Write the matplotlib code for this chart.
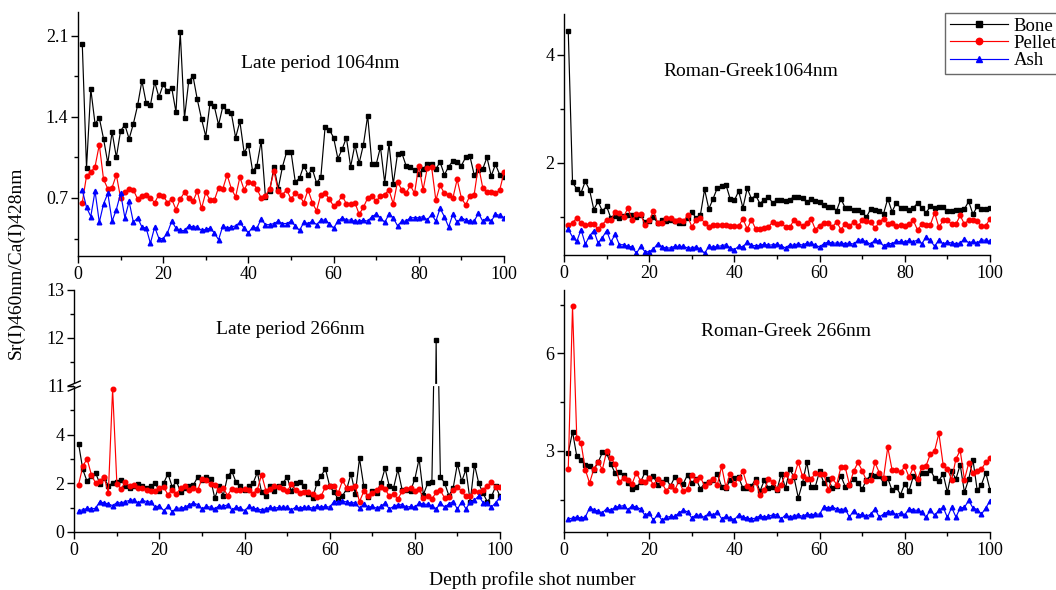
import matplotlib
matplotlib.use("Agg")
import matplotlib.pyplot as plt
from matplotlib.ticker import MultipleLocator
from matplotlib.lines import Line2D

plt.rcParams["font.family"] = ["Liberation Serif", "DejaVu Serif"]
plt.rcParams["axes.unicode_minus"] = False

shots = list(range(1, 101))

# ---- Late period 1064nm ----
late1064_bone = [
    2.03, 0.96, 1.64, 1.34, 1.39, 1.21, 1.00, 1.27, 1.05, 1.28,
    1.33, 1.21, 1.34, 1.50, 1.71, 1.52, 1.50, 1.70, 1.57, 1.68,
    1.62, 1.65, 1.44, 2.13, 1.39, 1.71, 1.75, 1.55, 1.38, 1.23,
    1.52, 1.49, 1.33, 1.49, 1.45, 1.43, 1.22, 1.36, 1.09, 1.16,
    0.93, 0.98, 1.19, 0.71, 0.76, 0.97, 0.78, 0.97, 1.10, 1.10,
    0.84, 0.87, 0.98, 0.90, 0.95, 0.83, 0.88, 1.31, 1.29, 1.22,
    1.04, 1.12, 1.22, 0.97, 1.16, 1.00, 1.16, 1.41, 0.99, 0.99,
    1.14, 0.83, 1.17, 0.82, 1.08, 1.09, 0.98, 0.97, 0.94, 0.91,
    0.95, 0.99, 0.99, 0.95, 1.01, 0.90, 0.97, 1.02, 1.01, 0.98,
    1.05, 1.06, 0.90, 0.94, 0.95, 1.05, 0.89, 0.99, 0.90, 0.88,
]
late1064_pellet = [
    0.66, 0.89, 0.92, 0.97, 1.16, 0.86, 0.78, 0.79, 0.90, 0.70,
    0.75, 0.78, 0.77, 0.69, 0.72, 0.73, 0.70, 0.66, 0.73, 0.72,
    0.66, 0.69, 0.60, 0.69, 0.75, 0.70, 0.67, 0.76, 0.61, 0.75,
    0.68, 0.68, 0.79, 0.78, 0.90, 0.78, 0.71, 0.88, 0.77, 0.84,
    0.83, 0.78, 0.70, 0.72, 0.78, 0.93, 0.76, 0.73, 0.77, 0.69,
    0.74, 0.72, 0.66, 0.77, 0.66, 0.59, 0.73, 0.74, 0.69, 0.63,
    0.66, 0.72, 0.65, 0.65, 0.66, 0.56, 0.62, 0.70, 0.72, 0.67,
    0.72, 0.73, 0.77, 0.65, 0.84, 0.77, 0.74, 0.81, 0.74, 0.98,
    0.77, 0.96, 0.97, 0.68, 0.81, 0.74, 0.73, 0.70, 0.86, 0.70,
    0.64, 0.72, 0.73, 0.98, 0.79, 0.75, 0.75, 0.74, 0.77, 0.92,
]
late1064_ash = [
    0.77, 0.62, 0.54, 0.76, 0.49, 0.65, 0.74, 0.50, 0.60, 0.74,
    0.53, 0.67, 0.49, 0.53, 0.45, 0.44, 0.31, 0.45, 0.35, 0.35,
    0.40, 0.50, 0.44, 0.42, 0.42, 0.46, 0.45, 0.45, 0.42, 0.43,
    0.44, 0.40, 0.34, 0.46, 0.44, 0.45, 0.46, 0.49, 0.44, 0.40,
    0.45, 0.44, 0.52, 0.47, 0.47, 0.48, 0.50, 0.48, 0.48, 0.50,
    0.46, 0.42, 0.49, 0.48, 0.50, 0.47, 0.51, 0.51, 0.48, 0.44,
    0.50, 0.53, 0.51, 0.51, 0.50, 0.50, 0.51, 0.50, 0.54, 0.56,
    0.53, 0.49, 0.56, 0.53, 0.46, 0.50, 0.50, 0.53, 0.53, 0.53,
    0.54, 0.51, 0.56, 0.50, 0.61, 0.54, 0.45, 0.56, 0.49, 0.53,
    0.51, 0.50, 0.50, 0.57, 0.50, 0.53, 0.50, 0.56, 0.55, 0.53,
]

# ---- Roman-Greek 1064nm ----
rg1064_bone = [
    4.43, 1.64, 1.52, 1.45, 1.66, 1.50, 1.14, 1.29, 1.11, 1.20,
    0.98, 1.02, 0.98, 1.02, 1.03, 1.03, 1.00, 1.03, 0.91, 0.92,
    1.00, 0.89, 0.95, 0.92, 0.95, 0.92, 0.90, 0.90, 0.98, 1.10,
    0.98, 1.03, 1.51, 1.15, 1.34, 1.54, 1.57, 1.60, 1.34, 1.31,
    1.48, 1.17, 1.53, 1.34, 1.40, 1.25, 1.32, 1.37, 1.26, 1.32,
    1.32, 1.29, 1.32, 1.38, 1.38, 1.35, 1.27, 1.34, 1.29, 1.28,
    1.23, 1.18, 1.19, 1.12, 1.34, 1.17, 1.16, 1.13, 1.14, 1.09,
    1.00, 1.15, 1.14, 1.12, 1.06, 1.34, 1.10, 1.26, 1.17, 1.16,
    1.14, 1.17, 1.26, 1.17, 1.08, 1.20, 1.16, 1.19, 1.18, 1.11,
    1.11, 1.13, 1.13, 1.15, 1.29, 1.05, 1.20, 1.15, 1.15, 1.17,
]
rg1064_pellet = [
    0.85, 0.90, 0.98, 0.90, 0.85, 0.87, 0.87, 0.78, 0.86, 0.95,
    0.94, 1.09, 1.08, 1.00, 1.17, 0.94, 1.06, 1.05, 0.86, 0.94,
    1.11, 0.89, 0.89, 0.98, 0.98, 0.92, 0.95, 0.92, 1.03, 0.82,
    0.94, 0.98, 0.90, 0.81, 0.85, 0.85, 0.85, 0.85, 0.84, 0.83,
    0.83, 0.97, 0.78, 0.95, 0.78, 0.78, 0.80, 0.82, 0.91, 0.87,
    0.89, 0.82, 0.81, 0.95, 0.89, 0.84, 0.89, 0.97, 0.77, 0.84,
    0.90, 0.89, 0.82, 0.91, 0.77, 0.87, 0.83, 0.91, 0.83, 0.94,
    0.92, 0.91, 0.79, 0.91, 0.97, 0.87, 0.90, 0.83, 0.85, 0.83,
    0.87, 0.94, 0.76, 0.87, 0.86, 0.86, 1.08, 0.81, 0.94, 0.94,
    0.87, 0.87, 1.03, 0.87, 0.95, 0.94, 0.92, 0.83, 0.84, 0.97,
]
rg1064_ash = [
    0.78, 0.63, 0.55, 0.77, 0.50, 0.65, 0.75, 0.52, 0.62, 0.75,
    0.54, 0.68, 0.49, 0.49, 0.46, 0.45, 0.33, 0.46, 0.36, 0.36,
    0.41, 0.51, 0.45, 0.43, 0.43, 0.46, 0.46, 0.46, 0.43, 0.43,
    0.45, 0.41, 0.33, 0.46, 0.44, 0.46, 0.47, 0.49, 0.43, 0.40,
    0.46, 0.45, 0.54, 0.48, 0.47, 0.48, 0.50, 0.48, 0.49, 0.50,
    0.47, 0.43, 0.49, 0.48, 0.51, 0.48, 0.52, 0.52, 0.48, 0.45,
    0.51, 0.54, 0.52, 0.52, 0.52, 0.51, 0.52, 0.50, 0.57, 0.58,
    0.54, 0.50, 0.58, 0.55, 0.47, 0.51, 0.51, 0.55, 0.55, 0.54,
    0.57, 0.54, 0.58, 0.51, 0.63, 0.57, 0.46, 0.58, 0.50, 0.54,
    0.52, 0.51, 0.52, 0.60, 0.52, 0.55, 0.52, 0.58, 0.57, 0.55,
]

# ---- Late period 266nm (broken axis) ----
late266_bone = [
    3.63, 2.57, 2.08, 2.32, 2.43, 1.99, 2.22, 1.90, 2.01, 2.04,
    2.15, 1.88, 1.81, 1.90, 1.97, 1.90, 1.81, 1.88, 2.01, 1.67,
    2.01, 2.40, 1.85, 2.08, 1.63, 1.81, 1.90, 1.94, 2.26, 2.12,
    2.25, 2.18, 1.39, 1.88, 1.50, 2.29, 2.50, 2.04, 1.90, 1.74,
    1.88, 2.01, 2.45, 1.63, 1.46, 1.88, 1.70, 1.88, 2.01, 2.26,
    1.67, 2.01, 2.04, 1.88, 1.56, 1.39, 2.01, 2.32, 2.59, 1.88,
    1.63, 1.35, 1.49, 1.77, 2.40, 1.57, 3.03, 1.88, 1.42, 1.70,
    1.60, 2.01, 2.62, 1.88, 1.81, 2.57, 1.74, 1.71, 1.70, 2.18,
    3.01, 1.53, 2.00, 2.04, 11.95, 2.26, 2.01, 1.49, 1.81, 2.81,
    2.08, 2.57, 1.25, 2.77, 2.01, 1.60, 1.25, 1.46, 1.88, 1.46,
]
late266_pellet = [
    1.94, 2.70, 3.01, 2.36, 2.01, 2.08, 2.26, 1.60, 5.87, 1.99,
    1.77, 2.05, 1.88, 1.94, 1.81, 1.81, 1.74, 1.67, 1.70, 1.81,
    1.85, 1.53, 1.74, 1.57, 1.81, 1.90, 1.74, 1.81, 1.74, 2.18,
    2.12, 1.97, 1.94, 1.74, 1.81, 1.50, 1.78, 1.71, 1.71, 1.77,
    1.74, 1.57, 1.74, 2.36, 1.70, 1.77, 1.88, 1.85, 1.78, 1.67,
    1.97, 1.74, 1.60, 1.63, 1.63, 1.57, 1.42, 1.49, 1.85, 1.90,
    1.90, 1.60, 2.12, 1.81, 1.81, 1.88, 1.25, 1.67, 1.49, 1.60,
    1.74, 1.85, 1.78, 1.46, 1.57, 1.35, 1.67, 1.77, 1.81, 1.67,
    1.77, 1.39, 1.46, 1.35, 1.63, 1.71, 1.39, 1.42, 1.74, 1.85,
    1.67, 1.46, 1.46, 1.67, 1.63, 1.74, 1.88, 2.04, 1.85, 1.85,
]
late266_ash = [
    0.88, 0.91, 0.97, 0.94, 0.98, 1.25, 1.19, 1.16, 1.08, 1.21,
    1.19, 1.25, 1.30, 1.32, 1.19, 1.30, 1.25, 1.23, 1.02, 1.08,
    0.88, 1.05, 0.84, 0.98, 0.98, 1.01, 1.12, 1.19, 1.12, 0.95,
    1.05, 1.02, 0.95, 1.08, 1.05, 1.12, 0.91, 1.02, 0.98, 0.88,
    1.05, 0.98, 0.95, 0.91, 0.95, 1.01, 0.98, 1.01, 1.02, 1.02,
    0.91, 1.02, 0.98, 1.02, 1.02, 0.98, 1.05, 1.02, 1.05, 1.02,
    1.25, 1.25, 1.28, 1.23, 1.19, 1.21, 0.98, 1.14, 1.02, 1.05,
    0.98, 1.05, 1.19, 0.95, 1.05, 1.12, 1.12, 1.02, 1.05, 1.02,
    1.19, 1.14, 1.14, 1.08, 0.94, 1.19, 1.02, 1.16, 1.25, 0.94,
    1.25, 0.95, 1.23, 1.30, 1.49, 1.21, 1.19, 1.02, 1.21, 1.43,
]

# ---- Roman-Greek 266nm ----
rg266_bone = [
    2.93, 3.59, 2.83, 2.72, 2.57, 2.52, 2.42, 2.64, 2.95, 2.93,
    2.59, 2.31, 2.34, 2.26, 2.01, 1.83, 1.88, 2.04, 2.34, 2.16,
    2.21, 1.96, 2.04, 2.13, 1.92, 2.19, 2.06, 1.99, 2.26, 2.01,
    2.14, 1.83, 1.99, 2.04, 2.11, 2.28, 1.90, 1.85, 2.09, 2.16,
    2.18, 1.85, 1.85, 1.92, 2.13, 1.75, 2.09, 1.85, 1.90, 1.80,
    2.29, 1.85, 2.44, 2.18, 1.55, 2.01, 2.65, 1.88, 1.90, 2.37,
    2.01, 2.13, 1.85, 1.92, 2.23, 1.90, 1.96, 2.14, 2.01, 1.82,
    2.11, 2.24, 2.21, 2.23, 2.01, 2.16, 1.78, 1.88, 1.65, 1.99,
    1.77, 2.21, 2.01, 2.31, 2.31, 2.42, 2.16, 2.08, 2.29, 1.72,
    2.37, 2.13, 2.57, 1.72, 2.13, 2.72, 1.78, 1.96, 2.33, 1.80,
]
rg266_pellet = [
    2.44, 7.45, 3.39, 3.24, 2.42, 2.01, 2.44, 2.67, 2.42, 2.98,
    2.77, 2.59, 2.04, 2.16, 2.11, 1.99, 2.33, 2.06, 2.04, 2.16,
    1.96, 2.13, 2.01, 1.77, 1.92, 1.78, 2.09, 1.75, 1.82, 2.26,
    2.09, 2.19, 1.92, 2.03, 2.13, 1.96, 2.52, 1.88, 2.29, 1.98,
    2.16, 2.37, 1.92, 1.83, 2.04, 1.65, 1.78, 2.14, 2.04, 1.82,
    1.96, 2.29, 2.06, 2.21, 2.65, 2.21, 2.13, 2.13, 2.31, 2.29,
    2.29, 1.80, 2.16, 1.96, 2.50, 2.50, 1.96, 2.37, 2.64, 2.39,
    2.08, 2.11, 2.64, 2.33, 2.16, 3.11, 2.42, 2.40, 2.34, 2.52,
    2.19, 2.49, 2.13, 2.49, 2.54, 2.90, 3.00, 3.54, 2.57, 2.44,
    2.11, 2.75, 3.01, 2.11, 2.62, 2.31, 2.37, 2.44, 2.64, 2.77,
]
rg266_ash = [
    0.90, 0.93, 0.96, 0.93, 0.96, 1.24, 1.19, 1.14, 1.09, 1.22,
    1.17, 1.26, 1.29, 1.31, 1.19, 1.31, 1.26, 1.21, 1.01, 1.09,
    0.86, 1.05, 0.86, 0.95, 0.98, 0.98, 1.09, 1.17, 1.12, 0.93,
    1.03, 1.01, 0.95, 1.09, 1.01, 1.12, 0.91, 0.98, 0.93, 0.88,
    1.03, 0.96, 0.93, 0.90, 0.93, 1.00, 0.96, 0.98, 1.03, 1.03,
    0.90, 1.03, 0.96, 1.00, 1.03, 0.98, 1.05, 1.03, 1.05, 1.05,
    1.27, 1.24, 1.27, 1.21, 1.19, 1.21, 0.96, 1.16, 1.01, 1.05,
    0.98, 1.05, 1.21, 0.96, 1.05, 1.12, 1.12, 1.03, 1.09, 1.03,
    1.22, 1.17, 1.17, 1.11, 0.95, 1.19, 1.01, 1.17, 1.26, 0.95,
    1.26, 0.96, 1.24, 1.26, 1.47, 1.24, 1.19, 1.05, 1.24, 1.46,
]

series_style = [
    ("Bone", "black", "s"),
    ("Pellet", "red", "o"),
    ("Ash", "blue", "^"),
]

W, H = 1056, 590


def px_box(x0, y0, x1, y1):
    # pixel box (top-left origin) -> figure fraction [l, b, w, h]
    return [x0 / W, 1 - y1 / H, (x1 - x0) / W, (y1 - y0) / H]


def style_axis(ax, xaxis=True):
    for side in ("top", "right"):
        ax.spines[side].set_visible(False)
    ax.spines["left"].set_linewidth(1.0)
    ax.spines["bottom"].set_linewidth(1.0)
    ax.tick_params(which="major", direction="out", length=5, width=1, labelsize=13, pad=2)
    ax.tick_params(which="minor", direction="out", length=3, width=1)
    ax.tick_params(right=False, top=False)
    ax.set_xlim(0, 100)
    ax.xaxis.set_major_locator(MultipleLocator(20))
    ax.xaxis.set_minor_locator(MultipleLocator(10))
    if not xaxis:
        ax.spines["bottom"].set_visible(False)
        ax.tick_params(which="both", bottom=False, labelbottom=False)


def draw(ax, data):
    for (label, color, marker), ys in zip(series_style, data):
        ax.plot(shots, ys, color=color, marker=marker, markersize=3.3,
                linewidth=0.85, label=label, clip_on=True)


fig = plt.figure(figsize=(W / 100, H / 100), dpi=100)

# top left
ax_tl = fig.add_axes(px_box(78, 12.4, 504, 256))
draw(ax_tl, [late1064_bone, late1064_pellet, late1064_ash])
style_axis(ax_tl)
ax_tl.set_ylim(0.2, 2.3)
ax_tl.yaxis.set_minor_locator(MultipleLocator(0.35))
ax_tl.set_yticks([0.7, 1.4, 2.1])
ax_tl.set_yticklabels(["0.7", "1.4", "2.1"])

# top right
ax_tr = fig.add_axes(px_box(564, 14, 990, 255))
draw(ax_tr, [rg1064_bone, rg1064_pellet, rg1064_ash])
style_axis(ax_tr)
ax_tr.set_ylim(0.3, 4.75)
ax_tr.set_yticks([2, 4])
ax_tr.yaxis.set_minor_locator(MultipleLocator(1))

# bottom left, broken y axis
ax_bl = fig.add_axes(px_box(74.3, 386, 500, 532))
ax_bl_up = fig.add_axes(px_box(74.3, 290, 500, 386))
for a in (ax_bl, ax_bl_up):
    draw(a, [late266_bone, late266_pellet, late266_ash])
style_axis(ax_bl)
style_axis(ax_bl_up, xaxis=False)
ax_bl.set_ylim(0, 6)
ax_bl.set_yticks([0, 2, 4])
ax_bl.yaxis.set_minor_locator(MultipleLocator(1))
ax_bl_up.set_ylim(11, 13)
ax_bl_up.set_yticks([11, 12, 13])
ax_bl_up.yaxis.set_minor_locator(MultipleLocator(0.5))
ax_bl_up.patch.set_alpha(0)

# break marks on the left spine, small gap where lines cross the break
bx, by = 74.3, 386
fig.add_artist(Line2D([(bx + 1) / W, 500 / W], [1 - (by - 1) / H, 1 - (by - 1) / H],
                      color="white", linewidth=1.6))
for dy in (-2.5, 2.5):
    fig.add_artist(Line2D([(bx - 6) / W, (bx + 6) / W],
                          [1 - (by + dy + 2.5) / H, 1 - (by + dy - 2.5) / H],
                          color="black", linewidth=1.0))

# bottom right
ax_br = fig.add_axes(px_box(564, 290, 990, 532))
draw(ax_br, [rg266_bone, rg266_pellet, rg266_ash])
style_axis(ax_br)
ax_br.set_ylim(0.5, 7.95)
ax_br.set_yticks([3, 6])
ax_br.yaxis.set_minor_locator(MultipleLocator(1.5))

# panel titles
fig.text(320 / W, 1 - 63 / H, "Late period 1064nm", ha="center", va="center", fontsize=14)
fig.text(751 / W, 1 - 72 / H, "Roman-Greek1064nm", ha="center", va="center", fontsize=14)
fig.text(290 / W, 1 - 330 / H, "Late period 266nm", ha="center", va="center", fontsize=14)
fig.text(786 / W, 1 - 332 / H, "Roman-Greek 266nm", ha="center", va="center", fontsize=14)

# axis labels
fig.text(532 / W, 1 - 580 / H, "Depth profile shot number", ha="center", va="center", fontsize=14)
fig.text(16 / W, 1 - 263 / H, "Sr(I)460nm/Ca(I)428nm", ha="center", va="center",
         rotation=90, fontsize=14)

handles, labels = ax_tr.get_legend_handles_labels()
leg = fig.legend(handles, labels, loc="upper left", bbox_to_anchor=(945 / W, 1 - 13 / H),
                 frameon=True, fancybox=False, edgecolor="#444444", fontsize=13.5,
                 handlelength=3.1, handletextpad=0.3, borderpad=0.25, labelspacing=0.0,
                 borderaxespad=0, markerscale=1.4)
leg.get_frame().set_linewidth(1.0)

fig.savefig("out.png", dpi=100)
